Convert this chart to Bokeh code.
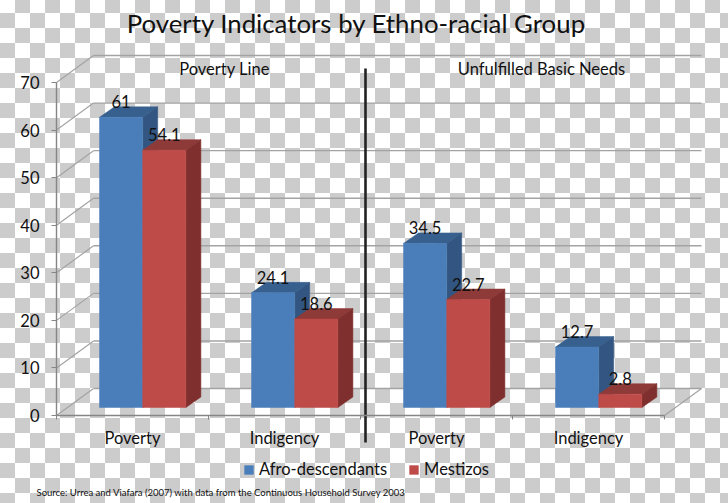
from bokeh.plotting import figure
from bokeh.models import (LinearAxis, FixedTicker, Range1d, Legend, LegendItem,
                          GlobalInlineStyleSheet)
from bokeh.embed import file_html
from bokeh.resources import INLINE

TITLE = "Poverty Indicators by Ethno-racial Group"
SOURCE = "Source: Urrea and Viafara (2007) with data from the Continuous Household Survey 2003"
PANELS = ["Poverty Line", "Unfulfilled Basic Needs"]
CATEGORIES = ["Poverty", "Indigency", "Poverty", "Indigency"]
AFRO = [61, 24.1, 34.5, 12.7]
MESTIZO = [54.1, 18.6, 22.7, 2.8]
Y_TICKS = [0, 10, 20, 30, 40, 50, 60, 70]

FONT = "Lato"
W, H = 728, 503
UX, UY = 152.0, 4.757        # pixels per category, pixels per value unit
X0, Y0 = 56.0, 415.0         # page position of the origin
def X(px): return (px - X0) / UX
def Y(py): return (Y0 - py) / UY

WX, WY = 37 / UX, 27 / UY    # depth of the chart box
DX, DY = 15 / UX, 10.5 / UY  # depth of a bar
BASE = 8 / UY                # bars stand this far in front of the axis
BAR_L = 43 / UX              # left gap of bar group
BAR_W = 43.2 / UX

p = figure(width=W, height=H, output_backend="svg", toolbar_location=None,
           x_axis_type=None, y_axis_type=None,
           x_range=Range1d(X(0), X(W)), y_range=Range1d(Y(H), Y(0)),
           min_border=0, min_border_left=0, min_border_right=0, min_border_top=0, min_border_bottom=0,
           border_fill_color=None, background_fill_color=None, outline_line_color=None)
p.grid.visible = False
p.stylesheets = [GlobalInlineStyleSheet(css="""
html { background-color:#fff;
  background-image:repeating-conic-gradient(#cccccc 0 25%, #ffffff 0 50%);
  background-size:30px 30px; background-position:0px -2px; }
html, body { margin:0; padding:0; overflow:hidden; }
body { background:transparent; }
""")]

GRID = "#a3a3a3"
p.segment(x0=[WX] * len(Y_TICKS), x1=[4 + WX] * len(Y_TICKS),
          y0=[v + WY for v in Y_TICKS], y1=[v + WY for v in Y_TICKS],
          line_color=GRID, line_width=1.4)
p.segment(x0=[0] * len(Y_TICKS), x1=[WX] * len(Y_TICKS),
          y0=Y_TICKS, y1=[v + WY for v in Y_TICKS], line_color=GRID, line_width=1.2)
p.segment(x0=[4], x1=[4 + WX], y0=[0], y1=[WY], line_color=GRID, line_width=1.2)

def bars(values, offset, front, top, side):
    ls = [i + BAR_L + offset for i in range(4)]
    rs = [l + BAR_W for l in ls]
    ts = [BASE + v for v in values]
    bs = [BASE] * 4
    p.patches([[l, l + DX, r + DX, r] for l, r in zip(ls, rs)],
              [[t, t + DY, t + DY, t] for t in ts],
              fill_color=top, line_color=top, line_width=0.5)
    p.patches([[r, r + DX, r + DX, r] for r in rs],
              [[t, t + DY, b + DY, b] for t, b in zip(ts, bs)],
              fill_color=side, line_color=side, line_width=0.5)
    return p.quad(left=ls, right=rs, bottom=bs, top=ts,
                  fill_color=front, line_color=front, line_width=0.5), ls, rs, ts

r1, l1, rr1, t1 = bars(AFRO, 0, "#4a7ebb", "#38608f", "#325681")
r2, l2, rr2, t2 = bars(MESTIZO, BAR_W, "#be4b48", "#8e3a38", "#7f2f2d")

def texts(xs, ys, labels, size, align="center", color="#111111"):
    p.text(xs, ys, text=labels, text_align=align, text_baseline="middle",
           text_font={"value": FONT}, text_font_size=size, text_color=color)

LAB = 15.5 / UY
texts([(a + b) / 2 for a, b in zip(l1, rr1)], [t + LAB for t in t1], [str(v) for v in AFRO], "16.5px")
texts([(a + b) / 2 for a, b in zip(l2, rr2)], [t + LAB for t in t2], [str(v) for v in MESTIZO], "16.5px")

p.segment(x0=[X(365)], x1=[X(365)], y0=[Y(68)], y1=[Y(442)], line_color="#222222", line_width=2.6)

yaxis = LinearAxis(fixed_location=0, ticker=FixedTicker(ticks=Y_TICKS), bounds=(0, 70),
                   axis_line_color="#868686", axis_line_width=1.4,
                   major_tick_line_color="#868686", major_tick_line_width=1.2,
                   major_tick_out=5, major_tick_in=0, minor_tick_out=0, minor_tick_in=0,
                   major_label_standoff=12,
                   major_label_text_font=FONT, major_label_text_font_size="16.5px",
                   major_label_text_color="#111111")
p.add_layout(yaxis, "left")
xaxis = LinearAxis(fixed_location=0, bounds=(0, 4),
                   ticker=FixedTicker(ticks=[i + 0.5 for i in range(4)], minor_ticks=list(range(5))),
                   major_label_overrides={i + 0.5: c for i, c in enumerate(CATEGORIES)},
                   axis_line_color="#868686", axis_line_width=1.4,
                   major_tick_line_color=None, major_tick_out=0, major_tick_in=0,
                   minor_tick_line_color="#868686", minor_tick_out=4, minor_tick_in=0,
                   major_label_standoff=8,
                   major_label_text_font=FONT, major_label_text_font_size="16.5px",
                   major_label_text_color="#111111")
p.add_layout(xaxis, "below")

texts([X(356)], [Y(22.5)], [TITLE], "25.8px")
texts([X(224), X(541)], [Y(68), Y(68)], PANELS, "16.5px")
texts([X(36)], [Y(491.5)], [SOURCE], "9.5px", align="left")

legend = Legend(items=[LegendItem(label="Afro-descendants", renderers=[r1]),
                       LegendItem(label="Mestizos", renderers=[r2])],
                location=(243, 24), orientation="horizontal",
                background_fill_alpha=0, border_line_color=None,
                label_text_font=FONT, label_text_font_size="16.5px", label_text_color="#111111",
                glyph_width=11, glyph_height=11, label_standoff=5, spacing=21,
                padding=0, margin=0)
p.add_layout(legend, "center")

open("out.html", "w").write(file_html(p, INLINE))
